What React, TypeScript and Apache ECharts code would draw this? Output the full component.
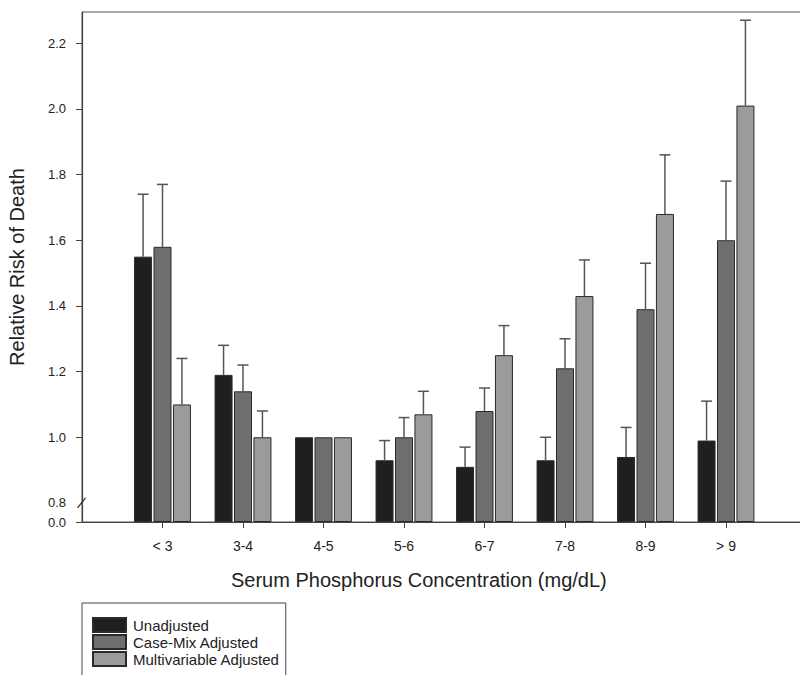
import React, { useEffect, useRef } from "react";
import * as echarts from "echarts";

const CATEGORIES = ["< 3", "3-4", "4-5", "5-6", "6-7", "7-8", "8-9", "> 9"];
const SERIES_NAMES = ["Unadjusted", "Case-Mix Adjusted", "Multivariable Adjusted"];
const UNADJUSTED = [1.55, 1.19, 1.0, 0.93, 0.91, 0.93, 0.94, 0.99];
const UNADJUSTED_UPPER = [1.74, 1.28, null, 0.99, 0.97, 1.0, 1.03, 1.11];
const CASEMIX = [1.58, 1.14, 1.0, 1.0, 1.08, 1.21, 1.39, 1.6];
const CASEMIX_UPPER = [1.77, 1.22, null, 1.06, 1.15, 1.3, 1.53, 1.78];
const MULTIVAR = [1.1, 1.0, 1.0, 1.07, 1.25, 1.43, 1.68, 2.01];
const MULTIVAR_UPPER = [1.24, 1.08, null, 1.14, 1.34, 1.54, 1.86, 2.27];
const Y_TICKS = [0.8, 1.0, 1.2, 1.4, 1.6, 1.8, 2.0, 2.2];
const Y_TOP = 2.295;

const COLORS = ["#1f1f1f", "#6e6e6e", "#9b9b9b"];
const FONT = "'Liberation Sans', Arial, sans-serif";

// Broken axis: 0.0 sits at the baseline, 0.8 a short gap above it.
const BREAK_GAP = 0.058;
const BREAK_AT = 0.8;
const toAxis = (v: number) => v - BREAK_AT + BREAK_GAP;
const fromAxis = (t: number) => t + BREAK_AT - BREAK_GAP;

const BAR_W = 18;
const BAR_GAP_PCT = 0.08;

export default function App() {
  const ref = useRef<HTMLDivElement>(null);

  useEffect(() => {
    if (!ref.current) return;
    const chart = echarts.init(ref.current, null, { renderer: "svg" });

    const xData = ["", ...CATEGORIES, ""];
    const values = [UNADJUSTED, CASEMIX, MULTIVAR];
    const uppers = [UNADJUSTED_UPPER, CASEMIX_UPPER, MULTIVAR_UPPER];

    const barSeries = SERIES_NAMES.map((name, s) => ({
      name,
      type: "bar",
      barWidth: BAR_W,
      barGap: `${BAR_GAP_PCT * 100}%`,
      itemStyle: { color: COLORS[s], borderColor: "#2a2a2a", borderWidth: 1 },
      data: [null, ...values[s].map((v) => toAxis(v)), null],
      z: 2,
    }));

    const errData: number[][] = [];
    uppers.forEach((arr, s) => {
      arr.forEach((u, i) => {
        if (u == null) return;
        errData.push([i + 1, toAxis(u), toAxis(values[s][i]), s]);
      });
    });

    const step = BAR_W * (1 + BAR_GAP_PCT);
    const errStyle = { stroke: "#555", lineWidth: 1.5 };

    const option: any = {
      animation: false,
      backgroundColor: "#fff",
      grid: {
        left: 82,
        width: 724.5,
        top: 12,
        bottom: 153,
        show: true,
        borderColor: "#555",
        borderWidth: 1,
        containLabel: false,
        outerBoundsMode: "none",
      },
      legend: {
        orient: "vertical",
        left: 82,
        top: 603,
        height: 120,
        icon: "rect",
        itemWidth: 33,
        itemHeight: 14,
        itemGap: 1,
        padding: [14, 6, 14, 10],
        borderColor: "#444",
        borderWidth: 1,
        data: SERIES_NAMES,
        textStyle: { fontFamily: FONT, fontSize: 15, color: "#222", padding: [0, 0, 0, 2] },
      },
      xAxis: {
        type: "category",
        data: xData,
        boundaryGap: false,
        axisLine: { show: true, lineStyle: { color: "#444", width: 1.2 } },
        axisTick: {
          show: true,
          length: 6,
          lineStyle: { color: "#444" },
          interval: (i: number) => i > 0 && i < xData.length - 1,
        },
        axisLabel: {
          interval: 0,
          margin: 17,
          fontFamily: FONT,
          fontSize: 14,
          color: "#222",
        },
        splitLine: { show: false },
      },
      yAxis: {
        type: "value",
        min: 0,
        max: toAxis(Y_TOP),
        name: "Relative Risk of Death",
        nameLocation: "middle",
        nameGap: 55,
        nameTextStyle: { fontFamily: FONT, fontSize: 20, color: "#222" },
        axisLine: { show: true, lineStyle: { color: "#444", width: 1.2 } },
        axisTick: {
          show: true,
          length: 6,
          lineStyle: { color: "#444" },
          customValues: [0, ...Y_TICKS.filter((v) => v !== BREAK_AT).map(toAxis)],
        },
        axisLabel: {
          margin: 16,
          fontFamily: FONT,
          fontSize: 13,
          color: "#222",
          customValues: [0, ...Y_TICKS.map(toAxis)],
          formatter: (val: number) => (val < 0.001 ? "0.0" : fromAxis(val).toFixed(1)),
        },
        splitLine: { show: false },
      },
      graphic: [
        {
          type: "text",
          left: 231,
          top: 570,
          style: {
            text: "Serum Phosphorus Concentration (mg/dL)",
            fontFamily: FONT,
            fontSize: 20,
            fill: "#222",
          },
        },
      ],
      series: [
        ...barSeries,
        {
          name: "errors",
          type: "custom",
          z: 3,
          encode: { x: 0, y: 1 },
          data: errData,
          renderItem: (params: any, api: any) => {
            const xi = api.value(0);
            const up = api.coord([xi, api.value(1)]);
            const base = api.coord([xi, api.value(2)]);
            const x = up[0] + (api.value(3) - 1) * step;
            return {
              type: "group",
              children: [
                { type: "line", shape: { x1: x, y1: base[1], x2: x, y2: up[1] }, style: errStyle },
                { type: "line", shape: { x1: x - 5.5, y1: up[1], x2: x + 5.5, y2: up[1] }, style: errStyle },
              ],
            };
          },
        },
        {
          name: "break",
          type: "custom",
          z: 4,
          encode: { x: 0, y: 1 },
          data: [[0, toAxis(BREAK_AT)]],
          renderItem: (params: any, api: any) => {
            const p = api.coord([api.value(0), api.value(1)]);
            return {
              type: "line",
              shape: { x1: p[0] - 4.5, y1: p[1] + 5, x2: p[0] + 3.5, y2: p[1] - 5 },
              style: { stroke: "#333", lineWidth: 1.3 },
            };
          },
        },
      ],
    };

    chart.setOption(option);
    return () => chart.dispose();
  }, []);

  return (
    <div
      ref={ref}
      style={{ position: "fixed", left: 0, top: 0, width: 800, height: 675, background: "#fff" }}
    />
  );
}
